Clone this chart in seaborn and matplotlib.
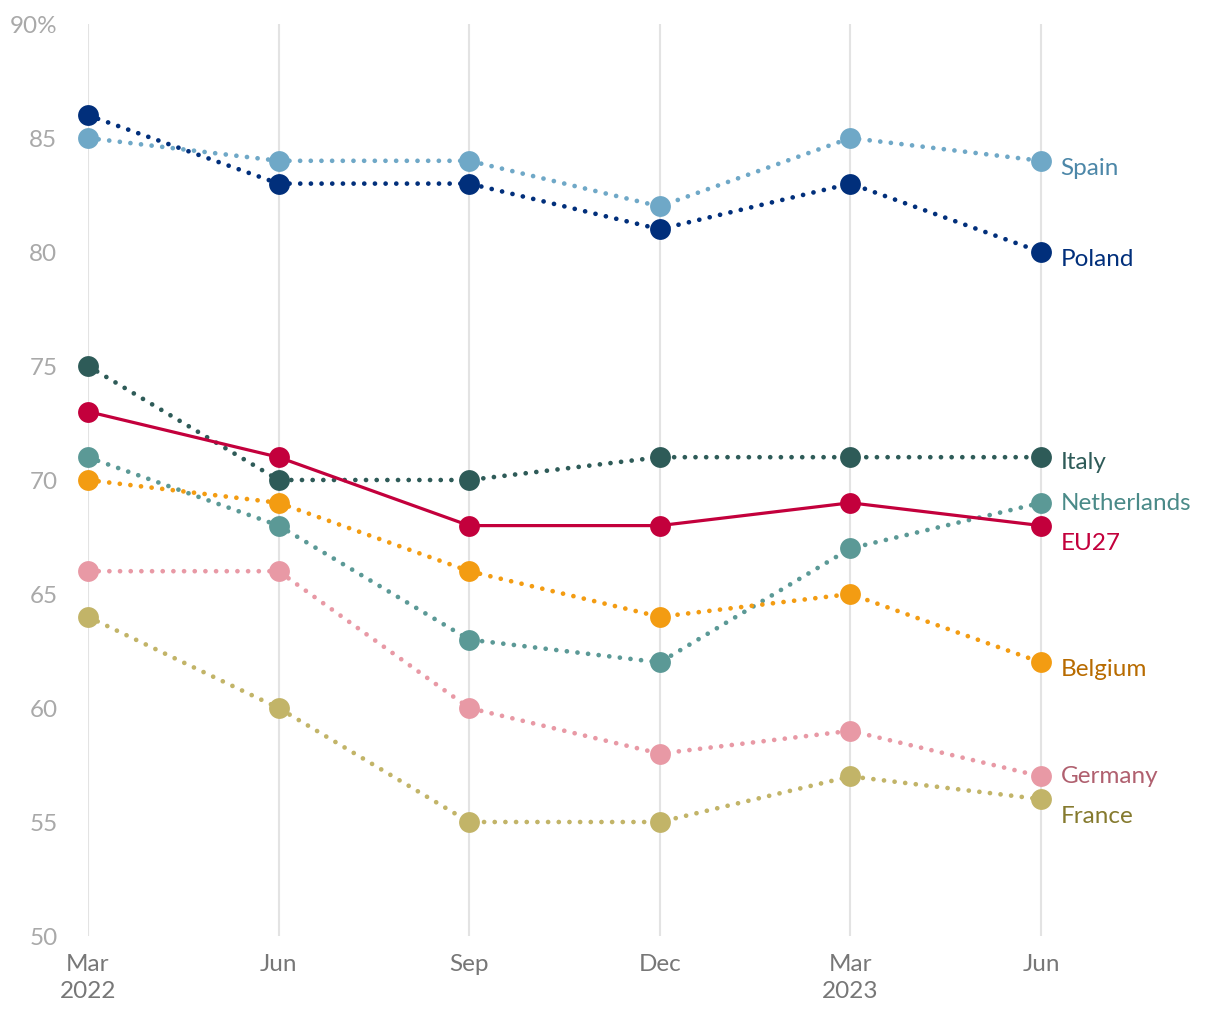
import matplotlib
matplotlib.use("Agg")
import matplotlib.pyplot as plt
import seaborn as sns
import pandas as pd

periods = ["Mar\n2022", "Jun", "Sep", "Dec", "Mar\n2023", "Jun"]
yticks = [50, 55, 60, 65, 70, 75, 80, 85, 90]
ytick_labels = ["50", "55", "60", "65", "70", "75", "80", "85", "90%"]

spain = [85, 84, 84, 82, 85, 84]
poland = [86, 83, 83, 81, 83, 80]
italy = [75, 70, 70, 71, 71, 71]
netherlands = [71, 68, 63, 62, 67, 69]
eu27 = [73, 71, 68, 68, 69, 68]
belgium = [70, 69, 66, 64, 65, 62]
germany = [66, 66, 60, 58, 59, 57]
france = [64, 60, 55, 55, 57, 56]

series = [
    ("Spain", spain, "#6fa8c7", "#4c87a8", 0.0),
    ("Poland", poland, "#012f7b", "#012f7b", 0.0),
    ("Italy", italy, "#2e5b58", "#2e5b58", 0.1),
    ("Netherlands", netherlands, "#5b9996", "#4a8a88", 0.3),
    ("EU27", eu27, "#c3003c", "#c3003c", -0.45),
    ("Belgium", belgium, "#f39c12", "#b86b00", 0.0),
    ("Germany", germany, "#e899a5", "#b0606f", 0.3),
    ("France", france, "#c2b468", "#857a2e", -0.45),
]

sns.set_theme(style="white")
plt.rcParams["font.family"] = ["Lato", "DejaVu Sans"]

fig = plt.figure(figsize=(12.2, 10.2), dpi=100)
ax = fig.add_axes([88 / 1220, 83 / 1020, (1200 - 88) / 1220, (937 - 25) / 1020])

x = list(range(len(periods)))
for name, vals, col, lcol, off in series:
    df = pd.DataFrame({"x": x, "v": vals})
    if name == "EU27":
        sns.lineplot(data=df, x="x", y="v", ax=ax, color=col, linewidth=2.3,
                     marker="o", markersize=15, markeredgewidth=0, zorder=3,
                     clip_on=False)
    else:
        sns.lineplot(data=df, x="x", y="v", ax=ax, color=col, linewidth=3.4,
                     linestyle=(0, (0.01, 2.25)), dash_capstyle="round",
                     marker="o", markersize=15, markeredgewidth=0, zorder=3,
                     clip_on=False)
    ax.annotate(name, xy=(x[-1], vals[-1] + off), xytext=(14, -4.5),
                textcoords="offset points", va="center", ha="left",
                color=lcol, fontsize=17.5)

ax.set_xlim(0, 5 + (1200 - 1041) / ((1041 - 88) / 5))
ax.set_ylim(50, 90)
ax.set_xticks(x)
ax.set_xticklabels(periods)
ax.set_yticks(yticks)
ax.set_yticklabels(ytick_labels)
ax.set_xlabel("")
ax.set_ylabel("")
for s in ax.spines.values():
    s.set_visible(False)
ax.grid(False)
for xi in x:
    ax.axvline(xi, color="#e3e3e3", linewidth=1.5, zorder=0)
ax.tick_params(axis="x", length=0, pad=12, labelsize=17.5, labelcolor="#777777")
ax.tick_params(axis="y", length=0, pad=22, labelsize=17.5, labelcolor="#a9a9a9")
for t in ax.get_xticklabels():
    t.set_linespacing(1.4)

fig.savefig("out.png", dpi=100)
